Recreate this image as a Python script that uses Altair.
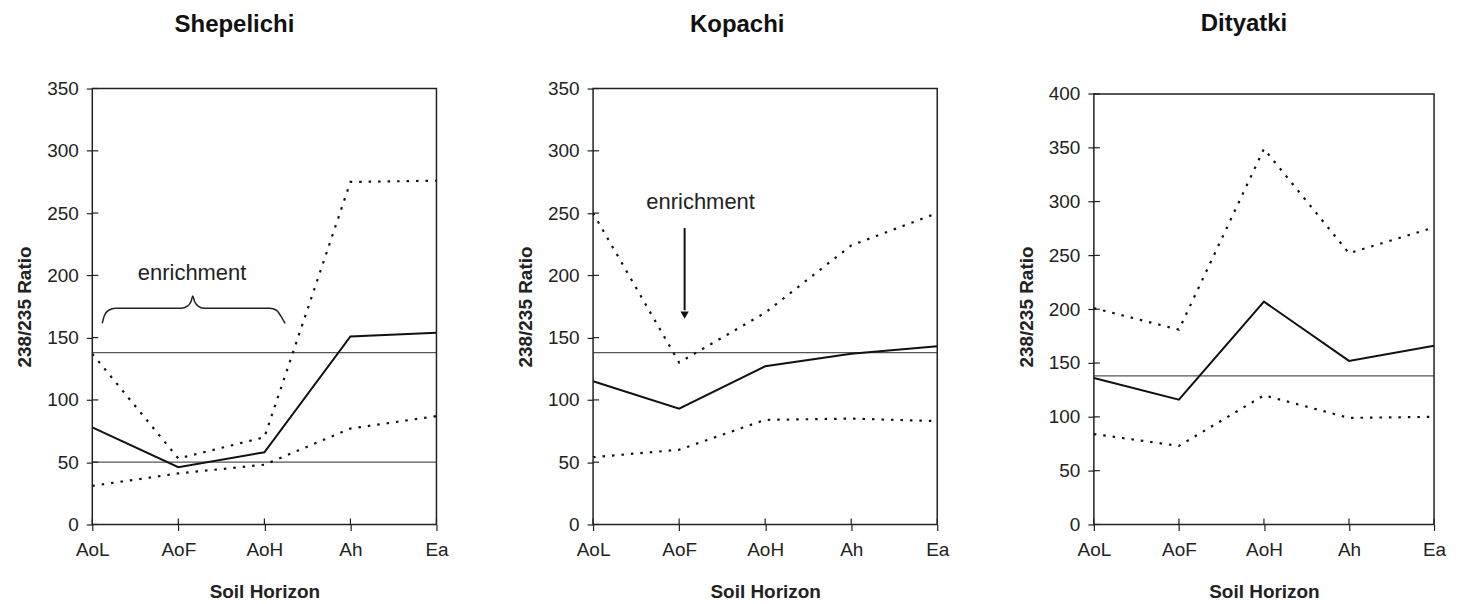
import altair as alt
import pandas as pd

FONT = "Liberation Sans"

# ---------------- data ----------------
horizons = ["AoL", "AoF", "AoH", "Ah", "Ea"]
x_index = [0, 1, 2, 3, 4]

shep_mean = [78, 46, 58, 151, 154]
shep_upper = [137, 53, 70, 275, 276]
shep_lower = [31, 41, 48, 77, 87]
shep_refs = [138, 50]

kop_mean = [115, 93, 127, 137, 143]
kop_upper = [250, 130, 170, 224, 250]
kop_lower = [54, 60, 84, 85, 83]
kop_refs = [138]

dit_mean = [136, 116, 207, 152, 166]
dit_upper = [201, 181, 349, 252, 276]
dit_lower = [84, 73, 120, 99, 100]
dit_refs = [138]

ticks_350 = [0, 50, 100, 150, 200, 250, 300, 350]
ticks_400 = [0, 50, 100, 150, 200, 250, 300, 350, 400]

# annotation: curly brace (x index, ratio) in Shepelichi
brace_x = [0.116, 0.14, 0.19, 0.27, 1.03, 1.11, 1.15, 1.168, 1.186, 1.226, 1.30, 2.06, 2.14, 2.19, 2.24]
brace_y = [161.5, 167.5, 172, 173.5, 173.5, 175.5, 179.5, 183.5, 179.5, 175.5, 173.5, 173.5, 172, 167.5, 161.5]
shep_note = {"x": [1.16], "y": [202], "t": ["enrichment"]}

# annotation: arrow in Kopachi
kop_note = {"x": [1.25], "y": [259], "t": ["enrichment"]}
arrow_x = [1.064]
arrow_top = [238]
arrow_end = [172]
arrow_head = [168]

H = 437
label_expr = "[" + ",".join("'%s'" % h for h in horizons) + "][datum.value]"


def panel(title, title_dx, title_off, mean, upper, lower, refs, yticks, ytop, ydomain, width, extra):
    xs = alt.Scale(domain=[0, 4], nice=False, zero=False)
    ys = alt.Scale(domain=[0, ydomain], nice=False, zero=True)
    xax = alt.Axis(values=x_index, labelExpr=label_expr, title="Soil Horizon",
                   domain=False, grid=False, tickSize=6, labelFlush=False,
                   labelOverlap=False, labelPadding=10, titlePadding=23, labelAngle=0)
    yax = alt.Axis(values=yticks, title="238/235 Ratio", domain=False, grid=False,
                   tickSize=6, labelPadding=8, titlePadding=12)

    def X(f):
        return alt.X(f, type="quantitative", scale=xs, axis=xax)

    def Y(f):
        return alt.Y(f, type="quantitative", scale=ys, axis=yax)

    frame = alt.Chart(pd.DataFrame({"x0": [0], "x1": [4], "y0": [0], "y1": [ytop]})).mark_rect(
        fillOpacity=0, stroke="#222", strokeWidth=1.5
    ).encode(x=X("x0"), x2="x1", y=Y("y0"), y2="y1")

    yt = alt.Chart(pd.DataFrame({"t": yticks})).mark_rule(color="#222", strokeWidth=1.2).encode(
        x=alt.value(0), x2=alt.value(6), y=Y("t"))
    xt = alt.Chart(pd.DataFrame({"i": x_index})).mark_rule(color="#222", strokeWidth=1.2).encode(
        x=X("i"), y=alt.value(H), y2=alt.value(H - 6))

    ref = alt.Chart(pd.DataFrame({"r": refs})).mark_rule(color="#555", strokeWidth=1.2).encode(y=Y("r"))

    def line(vals, dashed):
        df = pd.DataFrame({"i": x_index, "v": vals})
        if dashed:
            m = alt.Chart(df).mark_line(color="#111", strokeWidth=2.2, strokeDash=[2.5, 7])
        else:
            m = alt.Chart(df).mark_line(color="#111", strokeWidth=2)
        return m.encode(x=X("i"), y=Y("v"))

    layers = [ref, line(lower, True), line(upper, True), line(mean, False), frame, yt, xt] + extra(X, Y)
    return alt.layer(*layers).properties(
        width=width, height=H,
        title=alt.TitleParams(text=title, fontSize=24, fontWeight="bold", anchor="middle",
                              frame="group", dx=title_dx, offset=title_off, font=FONT, color="#111"),
    )


def shep_extra(X, Y):
    brace = alt.Chart(pd.DataFrame({"bx": brace_x, "by": brace_y})).mark_line(
        color="#222", strokeWidth=1.5, interpolate="monotone").encode(x=X("bx"), y=Y("by"))
    txt = alt.Chart(pd.DataFrame(shep_note)).mark_text(
        fontSize=22, color="#222", font=FONT, baseline="middle").encode(x=X("x"), y=Y("y"), text="t:N")
    return [brace, txt]


def kop_extra(X, Y):
    txt = alt.Chart(pd.DataFrame(kop_note)).mark_text(
        fontSize=22, color="#222", font=FONT, baseline="middle").encode(x=X("x"), y=Y("y"), text="t:N")
    shaft = alt.Chart(pd.DataFrame({"ax": arrow_x, "a1": arrow_top, "a2": arrow_end})).mark_rule(
        color="#111", strokeWidth=2).encode(x=X("ax"), y=Y("a1"), y2="a2")
    head = alt.Chart(pd.DataFrame({"ax": arrow_x, "ah": arrow_head})).mark_point(
        shape="triangle-down", filled=True, size=70, color="#111", opacity=1).encode(x=X("ax"), y=Y("ah"))
    return [txt, shaft, head]


def no_extra(X, Y):
    return []


p1 = panel("Shepelichi", -30, 43, shep_mean, shep_upper, shep_lower, shep_refs, ticks_350, 350, 350, 345, shep_extra)
p2 = panel("Kopachi", -28, 43, kop_mean, kop_upper, kop_lower, kop_refs, ticks_350, 350, 350, 345, kop_extra)
p3 = panel("Dityatki", -20, 49, dit_mean, dit_upper, dit_lower, dit_refs, ticks_400, 400, 405, 341, no_extra)

chart = alt.hconcat(p1, p2, p3, spacing=157, bounds="flush").properties(
    padding={"left": 7.5, "top": 3, "right": 5, "bottom": 5}
).configure(font=FONT).configure_view(stroke=None).configure_axis(
    labelFont=FONT, labelFontSize=19, labelColor="#222",
    titleFont=FONT, titleFontSize=19, titleFontWeight="bold", titleColor="#222",
    tickColor="#222", tickWidth=1.2,
)

chart.save("out.html", embed_options={"renderer": "svg", "actions": False})
